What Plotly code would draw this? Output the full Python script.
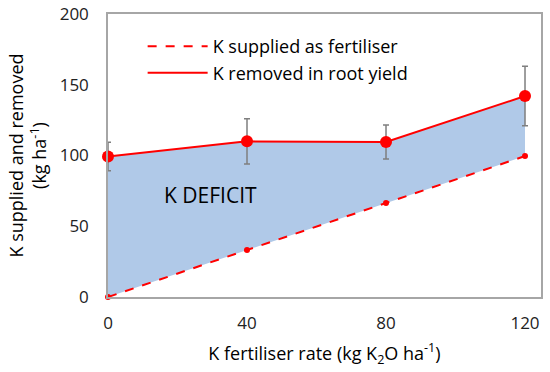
import plotly.graph_objects as go

rate = [0, 40, 80, 120]
supplied = [0, 33.2, 66.4, 99.6]
removed = [99.3, 110, 109.6, 142]
removed_err = [10, 16, 12, 21]

x_ticks = [0, 40, 80, 120]
y_ticks = [0, 50, 100, 150, 200]

font = "Open Sans"
red = "#FF0000"

fig = go.Figure()
# fill (deficit area)
fig.add_trace(go.Scatter(x=rate, y=supplied, mode="lines", line=dict(width=0),
                         showlegend=False, hoverinfo="skip"))
fig.add_trace(go.Scatter(x=rate, y=removed, mode="lines", line=dict(width=0),
                         fill="tonexty", fillcolor="#B0C9E8",
                         showlegend=False, hoverinfo="skip"))
fig.add_trace(go.Scatter(x=rate, y=supplied, mode="lines+markers",
                         showlegend=False,
                         line=dict(color=red, width=2, dash="dash"),
                         marker=dict(color=red, size=6), cliponaxis=False))
fig.add_trace(go.Scatter(x=rate, y=removed, mode="lines+markers",
                         showlegend=False,
                         line=dict(color=red, width=2),
                         marker=dict(color=red, size=12),
                         error_y=dict(type="data", array=removed_err, color="#7F7F7F",
                                      thickness=1.5, width=3),
                         cliponaxis=False))
# legend entries (lines only)
fig.add_trace(go.Scatter(x=[None], y=[None], mode="lines",
                         name="K supplied as fertiliser",
                         line=dict(color=red, width=2, dash="dash")))
fig.add_trace(go.Scatter(x=[None], y=[None], mode="lines",
                         name="K removed in root yield",
                         line=dict(color=red, width=2)))

fig.add_annotation(x=29.5, y=72, text="K DEFICIT", showarrow=False,
                   font=dict(family=font, size=21, color="#000000"))

fig.update_layout(
    width=550, height=372,
    margin=dict(l=108, r=9, t=14, b=75),
    paper_bgcolor="white", plot_bgcolor="white",
    font=dict(family=font, size=17, color="#222222"),
    showlegend=True,
    legend=dict(x=0.08, y=0.95, xanchor="left", yanchor="top",
                bgcolor="rgba(0,0,0,0)", itemwidth=60, traceorder="normal",
                font=dict(family=font, size=18, color="#000000"),
                tracegroupgap=0),
    xaxis=dict(range=[0, 124.6], tickvals=x_ticks, showgrid=False, zeroline=False,
               showline=True, linecolor="#A6A6A6", linewidth=1.5, mirror=True,
               ticks="", ticklabelstandoff=10, automargin=False,
               tickfont=dict(size=17, color="#222222"),
               title=dict(text="K fertiliser rate (kg K<sub>2</sub>O ha<sup>-1</sup>)",
                          standoff=14, font=dict(size=18, color="#000000"))),
    yaxis=dict(range=[0, 200], tickvals=y_ticks, showgrid=False, zeroline=False,
               showline=True, linecolor="#A6A6A6", linewidth=1.5, mirror=True,
               ticks="", ticklabelstandoff=14, automargin=False,
               tickfont=dict(size=17, color="#222222"),
               title=dict(text="K supplied and removed<br>(kg ha<sup>-1</sup>)",
                          standoff=8, font=dict(size=18, color="#000000"))),
)

fig.write_html("out.html", config={"displayModeBar": False},
               post_script="document.body.style.margin='0';document.body.style.overflow='hidden';")
